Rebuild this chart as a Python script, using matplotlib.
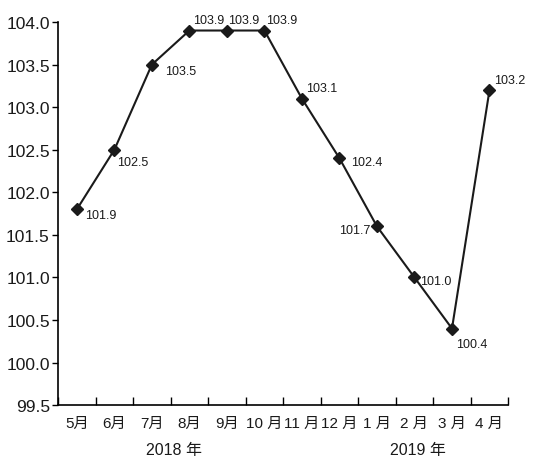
import numpy as np
import matplotlib.pyplot as plt

months = ["5月", "6月", "7月", "8月", "9月", "10 月", "11 月", "12 月",
          "1 月", "2 月", "3 月", "4 月"]
values = [101.8, 102.5, 103.5, 103.9, 103.9, 103.9, 103.1, 102.4,
          101.6, 101.0, 100.4, 103.2]
labels = ["101.9", "102.5", "103.5", "103.9", "103.9", "103.9", "103.1",
          "102.4", "101.7", "101.0", "100.4", "103.2"]
years = ["2018 年", "2019 年"]

# label offsets in points (dx, dy, ha)
offsets = [(5.8, -4.3, "left"), (2.2, -8.6, "left"), (9.4, -4.3, "left"),
           (13.7, 7.9, "center"), (12.2, 7.9, "center"), (12.2, 7.9, "center"),
           (2.9, 7.9, "left"), (8.6, -2.9, "left"), (-5.0, -2.9, "right"),
           (4.0, -2.9, "left"), (2.9, -10.8, "left"), (3.6, 7.2, "left")]

cjk = ["Liberation Sans", "Noto Sans CJK SC"]

fig = plt.figure(figsize=(5.43, 4.60), dpi=100)
ax = fig.add_axes([0.107, 0.117, 0.829, 0.833])

x = np.arange(len(values)) + 0.5
ax.plot(x, values, color="#1a1a1a", lw=1.5, marker="D", ms=6, mfc="#1a1a1a", mec="#1a1a1a")

for xi, v, lab, (dx, dy, ha) in zip(x, values, labels, offsets):
    ax.annotate(lab, (xi, v), xytext=(dx, dy), textcoords="offset points",
                ha=ha, va="center", fontsize=9, family="Liberation Sans", color="#1a1a1a")

ax.set_xlim(0, len(values))
ax.set_ylim(99.5, 104.0)
yt = np.arange(99.5, 104.01, 0.5)
ax.set_yticks(yt)
ax.set_yticklabels(["%.1f" % t for t in yt], family=cjk, fontsize=12.5, color="#1a1a1a")
ax.set_xticks(np.arange(len(values) + 1))
ax.set_xticklabels([])
ax.tick_params(axis="x", direction="in", length=6, width=1)
ax.tick_params(axis="y", direction="out", length=4, width=1, pad=2)

for xi, m in zip(x, months):
    ax.text(xi, -0.045, m, transform=ax.get_xaxis_transform(), ha="center", va="center",
            family=cjk, fontsize=11, color="#1a1a1a")
for xi, y in zip([3.1, 9.6], years):
    ax.text(xi, -0.115, y, transform=ax.get_xaxis_transform(), ha="center", va="center",
            family=cjk, fontsize=11.5, color="#1a1a1a")

for s in ["top", "right"]:
    ax.spines[s].set_visible(False)
for s in ["left", "bottom"]:
    ax.spines[s].set_linewidth(1.2)

fig.savefig("out.png", dpi=100)
